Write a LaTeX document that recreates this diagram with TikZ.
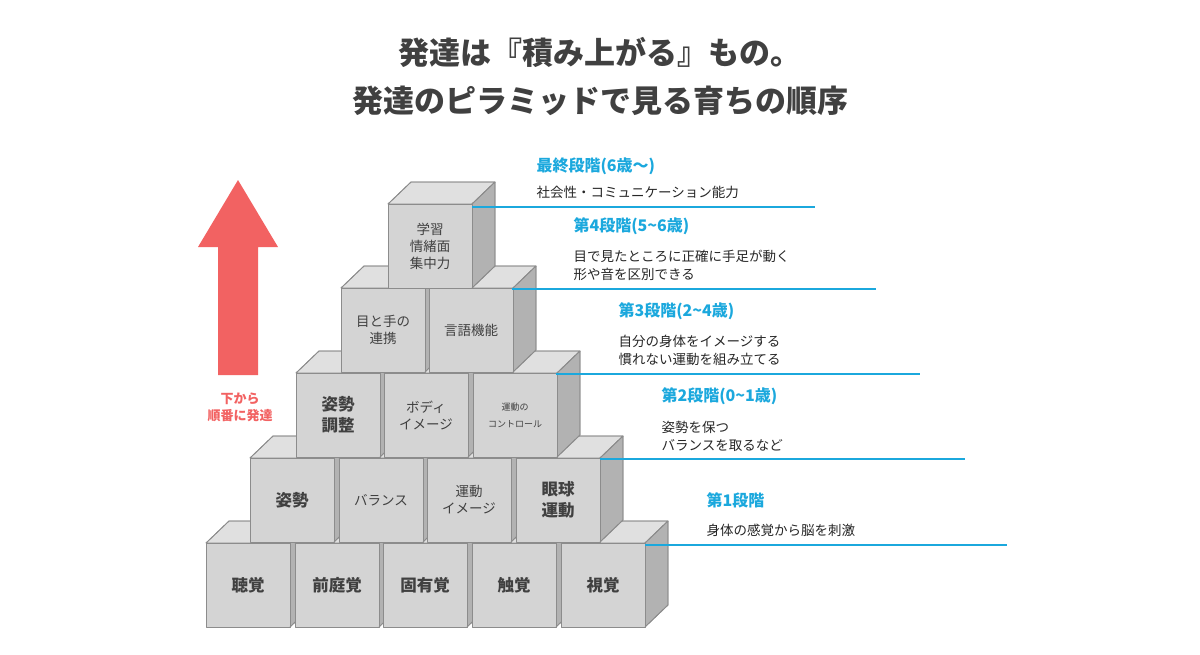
\documentclass[tikz,border=0pt]{standalone}
\usepackage{fontspec}
\setmainfont{Noto Sans CJK JP}
\definecolor{lvlc}{HTML}{1BA8DD}
\definecolor{arr}{HTML}{F26262}
\newcommand\tl{{\char"007E}}
\begin{document}
\begin{tikzpicture}[x=1pt,y=-1pt,
  face/.style={draw=black!45,line width=0.8pt,line join=round},
  lbl/.style={align=center,text=black!75,font=\fontsize{13.5}{17}\selectfont},
  lblb/.style={align=center,text=black!75,font=\fontsize{16.5}{21}\selectfont\bfseries},
  lvl/.style={draw=lvlc,line width=1.2pt},
  head/.style={anchor=west,text=lvlc,font=\fontsize{16}{19}\selectfont\bfseries},
  desc/.style={anchor=west,align=left,text=black!85,font=\fontsize{13.5}{18}\selectfont}]
\useasboundingbox (0,0) rectangle (1200,654);
\newcommand\mycube[5]{%
  \fill[face,fill=black!12] (#1,#2) -- ++(23,-22) -- ++(84,0) -- ++(-23,22) -- cycle;
  \fill[face,fill=black!30] (#1+84,#2) -- ++(23,-22) -- ++(0,84) -- ++(-23,22) -- cycle;
  \draw[face,fill=black!17] (#1,#2) rectangle ++(84,84);
  \draw[face] (#1,#2) -- ++(23,-22) -- ++(84,0) -- ++(-23,22);
  \draw[face] (#1+107,#2-22) -- ++(0,84) -- ++(-23,22);
  \node[#4] (#5) at (#1+42,#2+42) {#3};}
% title
\node[font=\fontsize{31}{48}\selectfont\bfseries,text=black!75,align=center] (title) at (600,77) {発達は『積み上がる』もの。\\発達のピラミッドで見る育ちの順序};
% arrow
\fill[arr] (218,375) -- (218,247) -- (198,247) -- (238,180) -- (278,247) -- (258,247) -- (258,375) -- cycle;
\node[font=\fontsize{13}{17}\selectfont\bfseries,text=arr,align=center] (up) at (240,407) {下から\\順番に発達};
% row1
\mycube{206}{543}{聴覚}{lblb}{c11}
\mycube{295}{543}{前庭覚}{lblb}{c12}
\mycube{383}{543}{固有覚}{lblb}{c13}
\mycube{472}{543}{触覚}{lblb}{c14}
\mycube{561}{543}{視覚}{lblb}{c15}
% row2
\mycube{250}{458}{姿勢}{lblb}{c21}
\mycube{339}{458}{バランス}{lbl}{c22}
\mycube{427}{458}{運動\\イメージ}{lbl}{c23}
\mycube{516}{458}{眼球\\運動}{lblb}{c24}
% row3
\mycube{296}{373}{姿勢\\調整}{lblb}{c31}
\mycube{384}{373}{ボディ\\イメージ}{lbl}{c32}
\mycube{473}{373}{\fontsize{9}{12}\selectfont 運動の\\\fontsize{9}{12}\selectfont コントロール}{lbl}{c33}
% row4
\mycube{341}{288}{目と手の\\連携}{lbl}{c41}
\mycube{429}{288}{言語機能}{lbl}{c42}
% row5
\mycube{388}{204}{学習\\情緒面\\集中力}{lbl}{c51}
% level lines
\coordinate (e1) at (1007,545); \coordinate (s1) at (645,545);
\coordinate (e2) at (965,459); \coordinate (s2) at (600,459);
\coordinate (e3) at (920,374); \coordinate (s3) at (556,374);
\coordinate (e4) at (876,289); \coordinate (s4) at (512,289);
\coordinate (e5) at (815,207); \coordinate (s5) at (472,207);
\foreach \i in {1,...,5} \draw[lvl] (s\i) -- (e\i);
% texts
\node[head] (h1) at (703,500) {第1段階};
\node[desc] (d1) at (703,530) {身体の感覚から脳を刺激};
\node[head] (h2) at (658,396) {第2段階(0\tl 1歳)};
\node[desc] (d2) at (658,436) {姿勢を保つ\\バランスを取るなど};
\node[head] (h3) at (615,311) {第3段階(2\tl 4歳)};
\node[desc] (d3) at (615,350) {自分の身体をイメージする\\慣れない運動を組み立てる};
\node[head] (h4) at (570,226) {第4段階(5\tl 6歳)};
\node[desc] (d4) at (570,265) {目で見たところに正確に手足が動く\\形や音を区別できる};
\node[head] (h5) at (533,166) {最終段階(6歳〜)};
\node[desc] (d5) at (533,192) {社会性・コミュニケーション能力};
\end{tikzpicture}
\end{document}
